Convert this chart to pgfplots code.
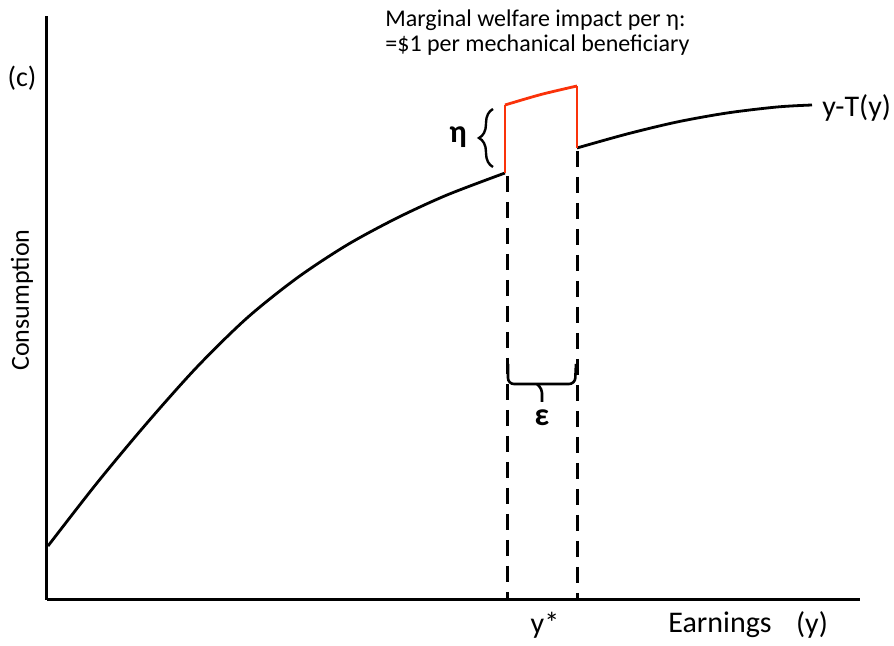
\documentclass[border=0pt]{standalone}
\usepackage{pgfplots}
\pgfplotsset{compat=1.18}
\usepackage{fontspec}
\setmainfont{Carlito}
\usetikzlibrary{decorations.pathreplacing}
\definecolor{redline}{RGB}{250,50,10}

\begin{document}
\begin{tikzpicture}
\begin{axis}[
  scale only axis, width=406.5pt, height=292pt,
  xmin=0, xmax=813, ymin=0, ymax=584,
  axis lines=left, axis line style={-, line width=1.5pt},
  ticks=none, clip=false,
]
% after-tax consumption schedule y - T(y)
\addplot[black, line width=1.4pt, smooth] coordinates {
  (1,54) (50,117) (100,177) (150,233) (200,282) (250,322) (300,355)
  (350,382) (400,405) (458,427)};
\addplot[black, line width=1.4pt, smooth] coordinates {
  (530,452) (580,466) (630,478) (680,487) (730,493) (765,495)};
% mechanical transfer eta
\addplot[redline, line width=1.4pt] coordinates {(458,427) (458,495)};
\addplot[redline, line width=1.4pt, smooth] coordinates {(458,495) (494,505.5) (530,514)};
\addplot[redline, line width=1.4pt] coordinates {(530,514) (530,452)};
% dashed guides
\addplot[black, line width=1.5pt, dash pattern=on 8pt off 5pt] coordinates {(460,424) (460,0)};
\addplot[black, line width=1.5pt, dash pattern=on 8pt off 5pt] coordinates {(530,449) (530,0)};

% braces
\draw[line width=1.2pt, decorate, decoration={brace, amplitude=7pt}]
  (axis cs:446,433) -- (axis cs:446,491);
\draw[line width=1.3pt, rounded corners=3pt]
  (axis cs:461,236) -- (axis cs:461,216) -- (axis cs:528,216) -- (axis cs:529,236);
\draw[line width=1.3pt, rounded corners=2pt]
  (axis cs:490,216) -- (axis cs:495,211) -- (axis cs:495,198);

% text
\node[font=\fontsize{14}{16}\selectfont] at (axis cs:-25,522) {(c)};
\node[font=\fontsize{13}{15}\selectfont, rotate=90] at (axis cs:-25,300) {Consumption};
\node[font=\fontsize{15}{17}\selectfont] at (axis cs:498,-25) {y*};
\node[font=\fontsize{15}{17}\selectfont] at (axis cs:673,-25) {Earnings};
\node[font=\fontsize{15}{17}\selectfont] at (axis cs:765,-25) {(y)};
\node[font=\fontsize{15}{17}\selectfont, anchor=west, inner sep=0pt] at (axis cs:775,492) {y-T(y)};
\node[font=\fontsize{12}{14}\selectfont, anchor=west, inner sep=0pt] at (axis cs:338,580) {Marginal welfare impact per η:};
\node[font=\fontsize{12}{14}\selectfont, anchor=west, inner sep=0pt] at (axis cs:338,555) {=\$1 per mechanical beneficiary};
\node[font=\fontsize{16}{18}\selectfont\bfseries] at (axis cs:411,463) {η};
\node[font=\fontsize{16}{18}\selectfont\bfseries] at (axis cs:495,182) {ε};

\coordinate (bl) at (axis cs:-47,-39);
\coordinate (tr) at (axis cs:847,600);
\end{axis}
\path (bl) rectangle (tr);
\end{tikzpicture}
\end{document}
